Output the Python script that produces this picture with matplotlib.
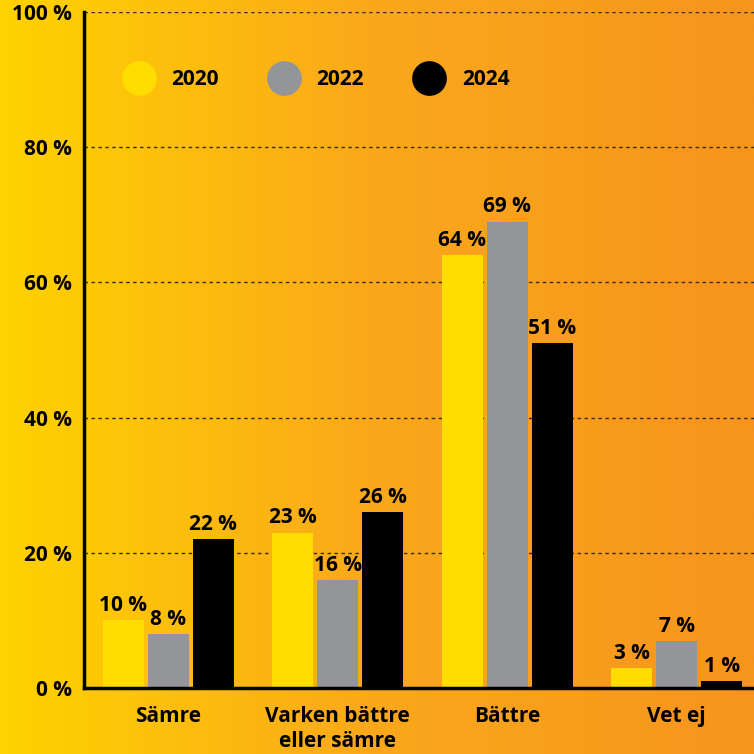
import numpy as np
import matplotlib
matplotlib.use('Agg')
import matplotlib.pyplot as plt
from matplotlib.lines import Line2D
from matplotlib.colors import LinearSegmentedColormap

# Data
categories = ['Sämre', 'Varken bättre\neller sämre', 'Bättre', 'Vet ej']
years = ['2020', '2022', '2024']
values_2020 = [10, 23, 64, 3]
values_2022 = [8, 16, 69, 7]
values_2024 = [22, 26, 51, 1]
yticks = [0, 20, 40, 60, 80, 100]

series = [values_2020, values_2022, values_2024]
colors = ['#FFDD00', '#939598', '#000000']

plt.rcParams['font.family'] = ['Open Sans', 'DejaVu Sans']
plt.rcParams['font.weight'] = 'bold'

fig = plt.figure(figsize=(7.54, 7.54), dpi=100)

# Background gradient, yellow to orange
bg = fig.add_axes([0, 0, 1, 1], zorder=0)
grad_cmap = LinearSegmentedColormap.from_list('bg', ['#FFD200', '#FAA81B', '#F7941E'])
bg.imshow(np.linspace(0, 1, 256).reshape(1, -1), aspect='auto', cmap=grad_cmap,
          extent=[0, 1, 0, 1])
bg.axis('off')

ax = fig.add_axes([84 / 754, 66 / 754, 670 / 754, 676 / 754], zorder=1)
ax.patch.set_alpha(0)

x = np.arange(len(categories))
width = 41 / 169
offset = 45 / 169

for i, (vals, col) in enumerate(zip(series, colors)):
    pos = x + (i - 1) * offset
    bars = ax.bar(pos, vals, width=width, color=col, zorder=3)
    for b, v in zip(bars, vals):
        ax.annotate(f'{v} %', (b.get_x() + b.get_width() / 2, v),
                    xytext=(0, 3), textcoords='offset points',
                    ha='center', va='bottom', fontsize=15, fontweight='bold',
                    color='black', zorder=4)

ax.set_xlim(-84 / 169, 3 + 77 / 169)
ax.set_ylim(0, 100)
ax.set_yticks(yticks)
ax.set_yticklabels([f'{t} %' for t in yticks], fontsize=15, fontweight='bold')
ax.set_xticks(x)
ax.set_xticklabels(categories, fontsize=15, fontweight='bold', linespacing=1.25)
ax.tick_params(axis='both', length=0)
ax.tick_params(axis='y', pad=9)
ax.tick_params(axis='x', pad=13)

for t in yticks[1:]:
    ax.axhline(t, color='#3a2a10', linestyle=(0, (2.5, 2.5)), linewidth=1, zorder=1)

for s in ['top', 'right']:
    ax.spines[s].set_visible(False)
ax.spines['left'].set_linewidth(2.5)
ax.spines['bottom'].set_linewidth(2.5)
ax.spines['left'].set_zorder(5)
ax.spines['bottom'].set_zorder(5)

handles = [Line2D([0], [0], marker='o', linestyle='none', markersize=25,
                  markerfacecolor=c, markeredgecolor='none', label=y)
           for y, c in zip(years, colors)]
ax.legend(handles=handles, ncol=3, loc='upper left', frameon=False,
          bbox_to_anchor=(0.055, 0.915), handlelength=1.7,
          handletextpad=0.7, columnspacing=2.3, borderpad=0, borderaxespad=0,
          prop={'weight': 'bold', 'size': 15})

fig.savefig('out.png', dpi=100)
